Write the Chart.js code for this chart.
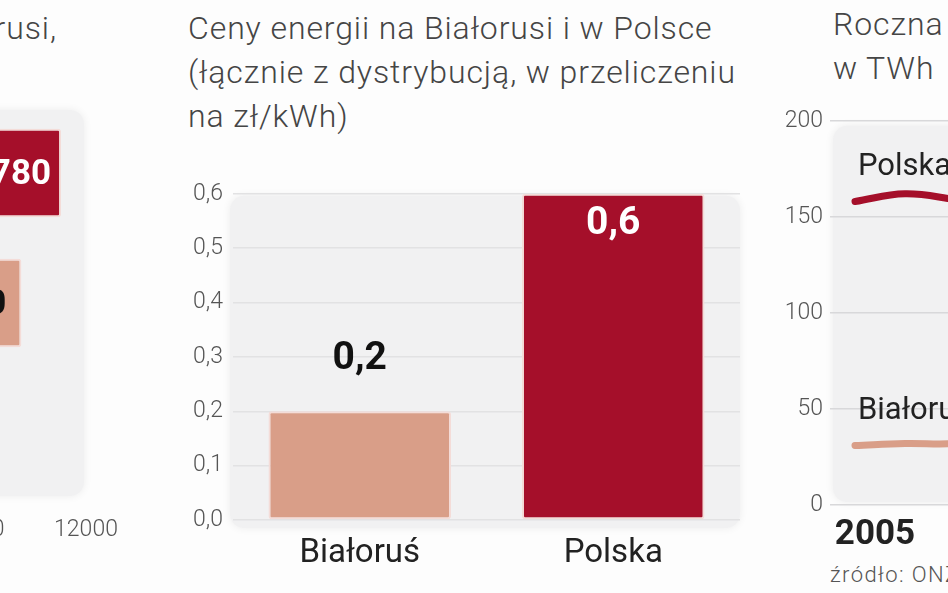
<!DOCTYPE html>
<html>
<head>
<meta charset="utf-8">
<script src="https://cdn.jsdelivr.net/npm/chart.js@4.4.1/dist/chart.umd.min.js"></script>
<style>
  html, body { margin: 0; padding: 0; background: #fff; overflow: hidden; }
  #page { position: relative; width: 948px; height: 593px; overflow: hidden; background: #fdfdfd; }
  canvas { position: absolute; }
  .title { position: absolute; font-family: Roboto, sans-serif; font-weight: 300; font-size: 32px;
           letter-spacing: 0.9px; line-height: 44px; color: #454545; white-space: nowrap; }
  .source { position: absolute; font-family: Roboto, sans-serif; font-weight: 300; font-size: 22px;
            letter-spacing: 1.4px; color: #555; white-space: nowrap; }
</style>
</head>
<body>
<div id="page">
  <div class="title" style="left:-443px; top:6px; width:500px; text-align:right;">Białorusi,</div>
  <div class="title" style="left:188px; top:6px;">Ceny energii na Białorusi i w Polsce<br>(łącznie z dystrybucją, w przeliczeniu<br>na zł/kWh)</div>
  <div class="title" style="left:833px; top:2px;">Roczna produkcja energii<br>w TWh</div>
  <div class="source" style="left:830px; top:562px;">źródło: ONZ</div>

  <canvas id="leftChart" width="424" height="438" style="left:-294px; top:100px;"></canvas>
  <canvas id="midChart" width="580" height="400" style="left:170px; top:170px;"></canvas>
  <canvas id="rightChart" width="470" height="460" style="left:770px; top:100px;"></canvas>
</div>

<script>
// kolory
const RED = '#a50f2a';
const SALMON = '#d99e88';

// lewy wykres (widoczny tylko fragment)
const leftCategories = ['Polska', 'Białoruś', ''];
const leftValues = [11780, 11430, null];
const leftTicks = [9000, 10000, 11000, 12000];

// środkowy wykres - ceny energii
const priceCategories = ['Białoruś', 'Polska'];
const priceValues = [0.2, 0.6];
const priceTicks = [0, 0.1, 0.2, 0.3, 0.4, 0.5, 0.6];

// prawy wykres - roczna produkcja w TWh
const years = ['2005', '2006', '2007', '2008', '2009', '2010', '2011', '2012'];
const prodPolska = [158, 162, 159, 155, 152, 158, 163, 162];
const prodBialorus = [31, 32, 32, 35, 30, 35, 32, 31];
const prodTicks = [0, 50, 100, 150, 200];

const fmt = v => String(v).replace('.', ',');

// szare tło pod wykresem
const panelBg = {
  id: 'panelBg',
  beforeDraw(chart, args, o) {
    const a = chart.chartArea, c = chart.ctx;
    c.save();
    c.shadowColor = 'rgba(0,0,0,0.07)';
    c.shadowBlur = 8;
    c.fillStyle = '#f1f1f2';
    c.beginPath();
    c.roundRect(a.left + o.l, a.top + o.t, (a.right + o.r) - (a.left + o.l), (a.bottom + o.b) - (a.top + o.t), 14);
    c.fill();
    c.restore();
  }
};

const barBorder = { borderColor: '#f4dcd8', borderWidth: 2, borderRadius: 3, borderSkipped: false };

// etykiety wartości nad / w słupkach
const midLabels = {
  id: 'midLabels',
  afterDatasetsDraw(chart) {
    const c = chart.ctx;
    const meta = chart.getDatasetMeta(0);
    c.save();
    c.font = 'bold 39px Roboto, sans-serif';
    c.textAlign = 'center';
    c.textBaseline = 'middle';
    meta.data.forEach((bar, i) => {
      const h = bar.base - bar.y;
      if (h < 150) {
        c.fillStyle = '#111';
        c.fillText(fmt(priceValues[i]), bar.x, bar.y - 52);
      } else {
        c.fillStyle = '#fff';
        c.fillText(fmt(priceValues[i]), bar.x, bar.y + 30);
      }
    });
    c.restore();
  }
};

const leftLabels = {
  id: 'leftLabels',
  afterDatasetsDraw(chart) {
    const c = chart.ctx;
    const meta = chart.getDatasetMeta(0);
    c.save();
    c.font = 'bold 35px Roboto, sans-serif';
    c.textAlign = 'right';
    c.textBaseline = 'middle';
    meta.data.forEach((bar, i) => {
      if (leftValues[i] == null) return;
      c.fillStyle = i === 0 ? '#fff' : '#111';
      c.fillText(String(leftValues[i]), bar.x - (i === 0 ? 10 : 15), bar.y + 2);
    });
    c.restore();
  }
};

const lineNames = {
  id: 'lineNames',
  afterDatasetsDraw(chart) {
    const c = chart.ctx;
    c.save();
    c.font = '31px Roboto, sans-serif';
    c.fillStyle = '#222';
    c.textAlign = 'left';
    c.textBaseline = 'alphabetic';
    chart.data.datasets.forEach((ds, i) => {
      const pt = chart.getDatasetMeta(i).data[0];
      c.fillText(ds.label, pt.x + 3, pt.y - 26);
    });
    c.restore();
  }
};

const tickFont = { family: 'Roboto', size: 23, weight: '300' };

new Chart(document.getElementById('leftChart'), {
  type: 'bar',
  data: {
    labels: leftCategories,
    datasets: [{
      data: leftValues,
      backgroundColor: [RED, SALMON, SALMON],
      barPercentage: 0.68,
      categoryPercentage: 1,
      ...barBorder
    }]
  },
  options: {
    indexAxis: 'y',
    responsive: false,
    animation: false,
    layout: { padding: { top: 8, right: 44, left: 40, bottom: 0 } },
    plugins: { legend: { display: false }, tooltip: { enabled: false }, panelBg: { l: 0, t: 2, r: -2, b: -2 } },
    scales: {
      x: {
        min: leftTicks[0], max: leftTicks[leftTicks.length - 1],
        afterBuildTicks: s => { s.ticks = leftTicks.map(v => ({ value: v })); },
        ticks: { font: tickFont, color: '#555', padding: 10, callback: v => String(v) },
        grid: { display: false }, border: { display: false },
        afterFit: s => { s.height = 40; }
      },
      y: { display: false }
    }
  },
  plugins: [panelBg, leftLabels]
});

new Chart(document.getElementById('midChart'), {
  type: 'bar',
  data: {
    labels: priceCategories,
    datasets: [{
      data: priceValues,
      backgroundColor: [SALMON, RED],
      barPercentage: 0.72,
      categoryPercentage: 1,
      ...barBorder
    }]
  },
  options: {
    responsive: false,
    animation: false,
    layout: { padding: { top: 18, right: 10, left: 0, bottom: 0 } },
    plugins: { legend: { display: false }, tooltip: { enabled: false }, panelBg: { l: -3, t: 2, r: 0, b: 8 } },
    scales: {
      y: {
        min: 0, max: 0.6,
        afterBuildTicks: s => { s.ticks = priceTicks.map(v => ({ value: v })); },
        ticks: { font: tickFont, color: '#555', padding: 10, callback: v => v.toFixed(1).replace('.', ',') },
        grid: { color: '#e2e2e3', lineWidth: 1.5, drawTicks: false },
        border: { display: false },
        afterFit: s => { s.width = 63; }
      },
      x: {
        ticks: { font: { family: 'Roboto', size: 33 }, color: '#222', padding: 6 },
        grid: { display: false }, border: { display: false },
        afterFit: s => { s.height = 50; }
      }
    }
  },
  plugins: [panelBg, midLabels]
});

new Chart(document.getElementById('rightChart'), {
  type: 'line',
  data: {
    labels: years,
    datasets: [
      { label: 'Polska', data: prodPolska, borderColor: RED, borderWidth: 7, pointRadius: 0, tension: 0.4, borderCapStyle: 'round' },
      { label: 'Białoruś', data: prodBialorus, borderColor: SALMON, borderWidth: 7, pointRadius: 0, tension: 0.4, borderCapStyle: 'round' }
    ]
  },
  options: {
    responsive: false,
    animation: false,
    layout: { padding: { top: 15, right: 10, left: 0, bottom: 0 } },
    plugins: { legend: { display: false }, tooltip: { enabled: false }, panelBg: { l: 3, t: 5, r: 0, b: -3 } },
    scales: {
      y: {
        min: 0, max: 200,
        afterBuildTicks: s => { s.ticks = prodTicks.map(v => ({ value: v })); },
        ticks: { font: tickFont, color: '#555', padding: 7 },
        grid: { color: '#d8d8da', lineWidth: 1.5, drawTicks: false },
        border: { display: false },
        afterFit: s => { s.width = 60; }
      },
      x: {
        offset: true,
        ticks: {
          font: { family: 'Roboto', size: 35, weight: 'bold' }, color: '#222', padding: 1,
          labelOffset: 20, autoSkip: false, maxRotation: 0,
          callback: (v, i) => (i === 0 ? years[i] : '')
        },
        grid: { display: false }, border: { display: false },
        afterFit: s => { s.height = 55; }
      }
    }
  },
  plugins: [panelBg, lineNames]
});
</script>
</body>
</html>
